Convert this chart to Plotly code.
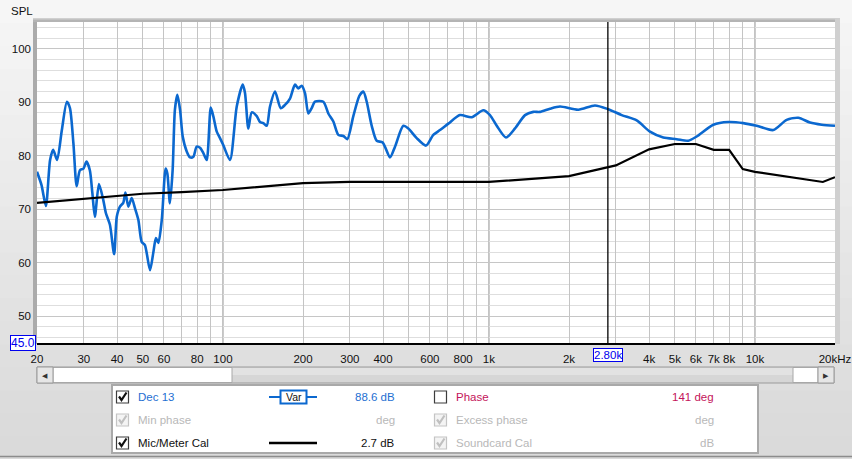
import math
import plotly.graph_objects as go

# ---------------- data ----------------
spl_freq = [20, 20.8, 21.6, 22.4, 23.0, 23.8, 24.8, 25.9, 26.6, 27.4, 28.2, 29.0, 29.9, 30.7, 31.6,
            32.3, 33.0, 34.2, 35.5, 36.3, 37.6, 39.0, 39.9, 41.0, 42.2, 43.0, 44.1, 45.4, 46.7, 48.1,
            49.5, 50.9, 53.2, 54.7, 56.0, 57.2, 58.9, 60.9, 61.8, 63.2, 64.7, 66.0, 67.4, 69.0, 70.6,
            73.1, 75.2, 77.4, 79.7, 82.0, 84.4, 86.9, 90.0, 92.0, 94.8, 97.5, 100.3, 106.3, 112.7,
            118.7, 121.1, 124.6, 128.3, 134.0, 137.8, 141.9, 146.1, 150.3, 157.0, 164.9, 171.1, 178.7,
            186.6, 192.0, 197.8, 203.5, 209.4, 215.6, 221.9, 238.5, 249.0, 260.1, 271.6, 283.6, 293.5,
            309.2, 325.7, 337.1, 347.2, 362.6, 378.6, 398.7, 424.7, 443.5, 476.6, 497.7, 535.1, 580,
            617.8, 654.7, 703.6, 778.5, 861.5, 952.5, 1009, 1070, 1159, 1253, 1367, 1468, 1556, 1697,
            1850, 2168, 2504, 2810, 3156, 3594, 4032, 4524, 5082, 5616, 6040, 6976, 7944, 9042, 10150,
            11720, 13160, 14560, 16110, 17830, 20000]
spl_db = [77.0, 74.5, 70.6, 79.2, 81.1, 79.2, 84.8, 90.1, 88.9, 82.4, 74.3, 77.3, 77.6, 78.9, 77.3,
          73.0, 68.6, 74.7, 71.7, 69.3, 67.1, 61.6, 68.6, 70.5, 71.2, 73.1, 70.5, 72.1, 70.2, 68.0,
          63.9, 63.3, 58.6, 61.8, 64.6, 63.7, 68.0, 77.6, 76.7, 71.1, 77.3, 88.6, 91.4, 88.6, 83.6,
          80.8, 79.7, 79.8, 81.7, 81.5, 80.5, 79.2, 89.0, 87.4, 84.5, 83.3, 82.0, 79.2, 89.2,
          93.3, 91.7, 85.1, 88.1, 87.4, 86.3, 86.1, 85.6, 89.2, 92.0, 88.9, 89.5, 90.7,
          93.3, 92.6, 93.1, 91.7, 87.9, 88.9, 90.1, 90.1, 87.9, 86.4, 83.9, 83.7, 83.1,
          87.4, 91.2, 92.0, 90.1, 85.6, 82.8, 82.5, 79.7, 81.7, 85.6, 85.1, 83.3, 81.9,
          83.9, 84.8, 86.0, 87.6, 87.2, 88.5, 87.6, 85.6, 83.4, 85.1, 87.6, 88.2, 88.2, 88.8,
          89.2, 88.6, 89.4, 88.7, 87.6, 86.6, 84.5, 83.4, 83.1, 82.8, 83.6, 85.8, 86.3, 86.1, 85.6,
          84.8, 86.7, 87.1, 86.2, 85.8, 85.6]

cal_freq = [20, 30, 40, 50, 70, 100, 200, 300, 1000, 2000, 3000, 4000, 5000, 6000, 7000, 8000,
            9000, 10000, 18000, 20000]
cal_db = [71.2, 72.0, 72.5, 72.9, 73.2, 73.6, 74.9, 75.1, 75.1, 76.2, 78.2, 81.2, 82.2, 82.2, 81.1,
          81.1, 77.5, 77.0, 75.1, 76.0]

x_grid_vals = [20, 30, 40, 50, 60, 70, 80, 90, 100, 200, 300, 400, 500, 600, 700, 800, 900,
               1000, 2000, 3000, 4000, 5000, 6000, 7000, 8000, 9000, 10000, 20000]
x_grid_text = ["20", "30", "40", "50", "60", "", "80", "", "100", "200", "300", "400", "", "600", "",
               "800", "", "1k", "2k", "", "4k", "5k", "6k", "7k", "8k", "", "10k", "20kHz"]
x_major = [100, 1000, 10000]
y_ticks = [50, 60, 70, 80, 90, 100]
cursor_freq = 2800
cursor_label = "2.80k"
y_bottom_label = "45.0"

# ---------------- layout helpers ----------------
X0, W = 37, 798
YB, H = 343, 321
FIG_W, FIG_H = 852, 459


def px(x):
    return (x - X0) / W


def py(y):
    return (YB - y) / H


FONT = "Liberation Sans, Arial, sans-serif"
BLUE = "#0b68cf"

fig = go.Figure()
fig.add_trace(go.Scatter(x=spl_freq, y=spl_db, mode="lines",
                         line=dict(color=BLUE, width=2.6, shape="spline", smoothing=0.7),
                         hoverinfo="skip"))
fig.add_trace(go.Scatter(x=cal_freq, y=cal_db, mode="lines",
                         line=dict(color="black", width=2.2), hoverinfo="skip"))

shapes = []
annotations = []


def rect(x0, x1, y0, y1, fill, line_color=None, lw=0, layer="above"):
    shapes.append(dict(type="rect", xref="paper", yref="paper", layer=layer,
                       x0=px(x0), x1=px(x1), y0=py(y1), y1=py(y0), fillcolor=fill,
                       line=dict(color=line_color or fill, width=lw)))


def hline(x0, x1, y, color, w, layer="above"):
    shapes.append(dict(type="line", xref="paper", yref="paper", layer=layer,
                       x0=px(x0), x1=px(x1), y0=py(y), y1=py(y), line=dict(color=color, width=w)))


def ann(x, y, text, color, size=11.5, xanchor="center", family=FONT, **kw):
    annotations.append(dict(x=px(x), y=py(y), xref="paper", yref="paper", text=text,
                            showarrow=False, xanchor=xanchor, yanchor="middle",
                            font=dict(size=size, color=color, family=family), **kw))


# background vertical gradient bands (kept inside the page)
nb = 20
for i in range(nb):
    y0 = FIG_H * i / nb
    y1 = min(FIG_H * (i + 1) / nb + 0.5, FIG_H)
    t = i / (nb - 1)
    c = int(246 - t * (246 - 218))
    rect(0, FIG_W, y0, y1, f"rgb({c},{c},{c})", layer="below")

# plot frame bands
rect(33, 37, 18, 344, "#ababab", layer="below")
rect(33, 840, 18, 22, "#b4b4b4", layer="below")
rect(33, 840, 18, 19.5, "#d0d0d0", layer="below")
rect(835, 840, 18, 344, "#d0d0d0", layer="below")
# plot area white
rect(37, 835, 22, 343, "white", layer="below")

# major vertical grid lines
for f in x_major:
    shapes.append(dict(type="line", xref="x", yref="paper", x0=f, x1=f, y0=0, y1=1,
                       line=dict(color="#858585", width=1), layer="below"))
# cursor
shapes.append(dict(type="line", xref="x", yref="paper", x0=cursor_freq, x1=cursor_freq,
                   y0=0, y1=1, line=dict(color="black", width=1.3)))

# scrollbar
rect(37, 834, 367, 383, "#d6d6d6", "#9a9a9a", 1)
rect(232, 793, 368, 375, "#e2e2e2")
rect(53, 232, 367.5, 382.5, "white", "#a8a8a8", 1)
rect(793, 818, 367.5, 382.5, "white", "#a8a8a8", 1)
rect(37, 53, 367, 383, "#e6e6e6", "#9a9a9a", 1)
rect(818, 834, 367, 383, "#e6e6e6", "#9a9a9a", 1)
ann(45, 375.5, "◀", "#333", size=7, family="DejaVu Sans")
ann(826, 375.5, "▶", "#333", size=7, family="DejaVu Sans")

# bottom window border
hline(0, FIG_W, 456.5, "#8c8c8c", 1.5)

# legend panel
rect(111, 759, 384, 454, "#a9a9a9")
rect(113, 757, 386, 452, "white")

rows = [397, 420, 443]


def checkbox(cx, cy, checked, enabled):
    border = "#3c3c3c" if enabled else "#c4c4c4"
    fill = "white" if enabled else "#f4f4f4"
    rect(cx - 6, cx + 6, cy - 6, cy + 6, fill, border, 1.2)
    if checked:
        col = "#111" if enabled else "#c0c0c0"
        pts = [(cx - 3.5, cy - 0.5), (cx - 1, cy + 3), (cx + 4, cy - 4.5)]
        path = "M " + " L ".join(f"{px(a):.5f},{py(b):.5f}" for a, b in pts)
        shapes.append(dict(type="path", xref="paper", yref="paper", path=path,
                           line=dict(color=col, width=2.2)))


def label(x, y, text, color, anchor="left"):
    ann(x, y, text, color, xanchor=anchor)


checkbox(122.5, rows[0], True, True)
checkbox(122.5, rows[1], True, False)
checkbox(122.5, rows[2], True, True)
checkbox(440.5, rows[0], False, True)
checkbox(440.5, rows[1], True, False)
checkbox(440.5, rows[2], True, False)

label(136, rows[0], "Dec 13", "#1e6fd2")
label(136, rows[1], "Min phase", "#b8b8b8")
label(136, rows[2], "Mic/Meter Cal", "#111")
label(397, rows[0], "88.6 dB", "#1e6fd2", "right")
label(397, rows[1], "deg", "#b8b8b8", "right")
label(397, rows[2], "2.7 dB", "#111", "right")
label(454, rows[0], "Phase", "#c4145a")
label(454, rows[1], "Excess phase", "#b8b8b8")
label(454, rows[2], "Soundcard Cal", "#b8b8b8")
label(716, rows[0], "141 deg", "#c4145a", "right")
label(716, rows[1], "deg", "#b8b8b8", "right")
label(716, rows[2], "dB", "#b8b8b8", "right")

# line samples
hline(269, 281, rows[0], BLUE, 2)
hline(306, 317, rows[0], BLUE, 2)
rect(280.5, 306.5, rows[0] - 6.5, rows[0] + 6.5, "white", BLUE, 2)
ann(293.5, rows[0], "Var", "#111", size=10.5)
hline(269, 317, rows[2], "black", 2.4)

# axis texts
ann(22, 11, "SPL", "#111")
ann(22.5, 343, y_bottom_label, "#0000ee", size=12, bgcolor="white", bordercolor="#0000ee",
    borderwidth=1, borderpad=0)
annotations.append(dict(x=math.log10(cursor_freq), xref="x", y=py(354.5), yref="paper",
                        text=cursor_label, showarrow=False, bgcolor="white",
                        bordercolor="#0000ee", borderwidth=1, borderpad=0,
                        font=dict(size=11.5, color="#0000ee", family=FONT),
                        xanchor="center", yanchor="middle"))

fig.update_layout(
    width=FIG_W, height=FIG_H,
    margin=dict(l=X0, r=FIG_W - X0 - W, t=YB - H, b=FIG_H - YB, autoexpand=False),
    paper_bgcolor="#e4e4e4", plot_bgcolor="white",
    showlegend=False,
    shapes=shapes, annotations=annotations,
    xaxis=dict(type="log", range=[math.log10(20), math.log10(20000)],
               tickvals=x_grid_vals, ticktext=x_grid_text, automargin=False,
               showgrid=True, gridcolor="#c4c4c4", gridwidth=1,
               showline=True, linecolor="black", linewidth=2,
               ticks="", ticklabelstandoff=4, zeroline=False,
               tickfont=dict(size=11.5, color="#111", family=FONT)),
    yaxis=dict(range=[45, 105], tick0=0, dtick=10, automargin=False,
               showgrid=True, gridcolor="#c6c6c6", gridwidth=1,
               minor=dict(dtick=2, showgrid=True, gridcolor="#dedede", gridwidth=1),
               showline=False, ticks="", ticklabelstandoff=5, zeroline=False,
               tickvals=y_ticks,
               tickfont=dict(size=11.5, color="#111", family=FONT)),
)

fig.write_html("out.html", config={"displayModeBar": False},
               post_script="document.body.style.margin='0px';")
